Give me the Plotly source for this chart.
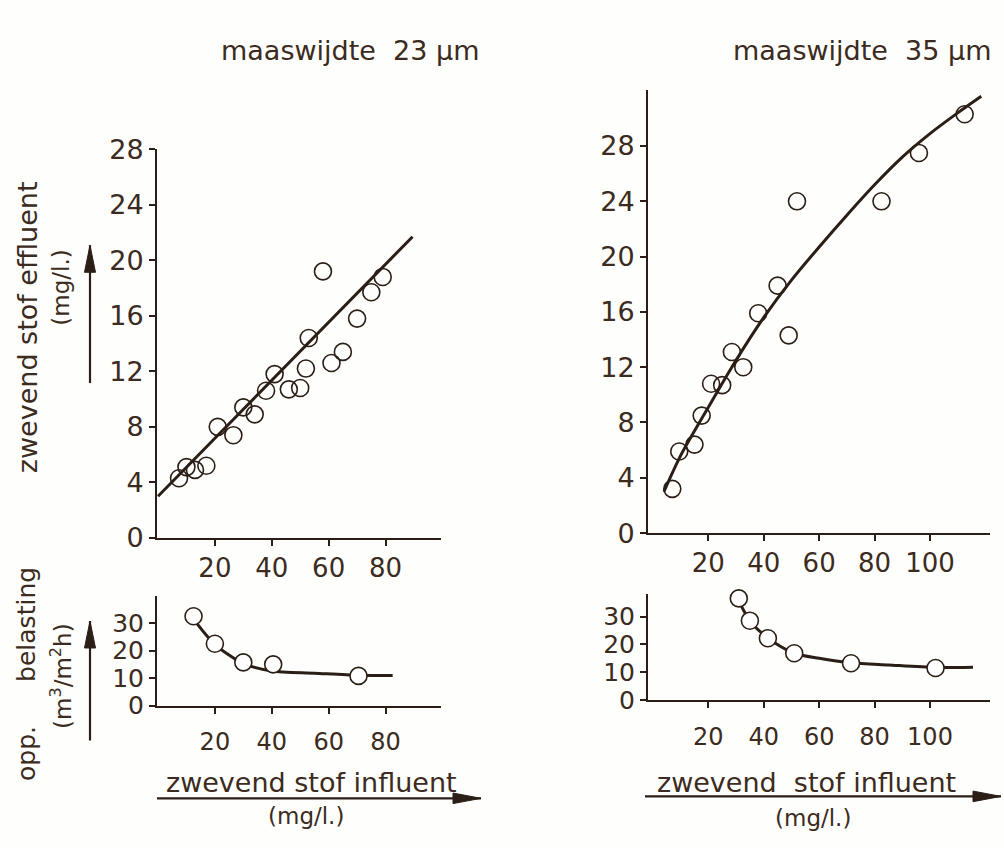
import plotly.graph_objects as go

# ---- data: maaswijdte 23 um -------------------------------------------
eff23_x = [7.4, 10, 13, 17, 21, 26.5, 30, 34, 38, 41, 46, 50, 52, 53, 58, 61, 65, 70, 75, 79]
eff23_y = [4.3, 5.1, 4.9, 5.2, 8.0, 7.4, 9.4, 8.9, 10.6, 11.8, 10.7, 10.8, 12.2, 14.4, 19.2, 12.6, 13.4, 15.8, 17.7, 18.8]
fit23_x = [0, 89.5]
fit23_y = [3.0, 21.7]

bel23_x = [12.5, 20, 30, 40.5, 70.5]
bel23_y = [32.5, 22.5, 15.7, 15.0, 10.8]
belfit23_x = [12.5, 20, 30, 40, 55, 70.5, 82.5]
belfit23_y = [31.5, 22.3, 15.3, 12.6, 11.8, 11.0, 10.9]

# ---- data: maaswijdte 35 um -------------------------------------------
eff35_x = [7, 9.5, 15, 17.6, 21, 25, 28.5, 32.6, 38, 45, 49, 52, 82.5, 96, 112.5]
eff35_y = [3.2, 5.9, 6.4, 8.5, 10.8, 10.7, 13.1, 12.0, 15.9, 17.9, 14.3, 24.0, 24.0, 27.5, 30.3]
fit35_x = [4, 10, 20, 30, 40, 50, 60, 70, 80, 90, 100, 110, 118.5]
fit35_y = [3.0, 5.6, 9.1, 12.5, 15.6, 18.3, 20.7, 23.0, 25.2, 27.2, 28.9, 30.4, 31.6]

bel35_x = [31, 35, 41.5, 51, 71.5, 102]
bel35_y = [36.5, 28.5, 22.2, 16.8, 13.2, 11.5]
belfit35_x = [31, 35, 41.5, 51, 60, 71.5, 85, 102, 115.5]
belfit35_y = [35.5, 28.5, 22.2, 16.8, 15.0, 13.4, 12.6, 11.7, 11.8]

# ---- tick labels -------------------------------------------------------
eff23_yticks = [0, 4, 8, 12, 16, 20, 24, 28]
eff35_yticks = [0, 4, 8, 12, 16, 20, 24, 28]
bel_yticks = [0, 10, 20, 30]
x23_ticks = [20, 40, 60, 80]
x35_ticks = [20, 40, 60, 80, 100]

INK = "#2b1e16"
TXT = "#3b2b20"
BG = "#fefefc"
W, H = 1004, 848


def px(x):
    return x / W


def py(y):
    return 1 - y / H


fig = go.Figure()


def add_panel(xa, ya, mx, my, lx, ly, open_marker, spline):
    fig.add_trace(go.Scatter(
        x=lx, y=ly, xaxis=xa, yaxis=ya, mode="lines",
        line=dict(color=INK, width=3, shape="spline" if spline else "linear", smoothing=0.8),
        showlegend=False, hoverinfo="skip", cliponaxis=False))
    fig.add_trace(go.Scatter(
        x=mx, y=my, xaxis=xa, yaxis=ya, mode="markers",
        marker=dict(symbol="circle", size=17,
                    color="rgba(0,0,0,0)" if open_marker else "white",
                    line=dict(color=INK, width=1.6)),
        showlegend=False, cliponaxis=False))


add_panel("x", "y", eff23_x, eff23_y, fit23_x, fit23_y, True, False)
add_panel("x2", "y2", eff35_x, eff35_y, fit35_x, fit35_y, True, True)
add_panel("x3", "y3", bel23_x, bel23_y, belfit23_x, belfit23_y, False, True)
add_panel("x4", "y4", bel35_x, bel35_y, belfit35_x, belfit35_y, False, True)

axis_common = dict(showline=True, linecolor=INK, linewidth=2, showgrid=False,
                   zeroline=False, ticks="outside", ticklen=6, tickwidth=2,
                   tickcolor=INK, fixedrange=True)
font_big = dict(family="DejaVu Sans", size=26, color=TXT)
font_small = dict(family="DejaVu Sans", size=24, color=TXT)

dom_left = [px(157), px(441)]
dom_right = [px(648), px(990)]

fig.update_layout(
    width=W, height=H, margin=dict(l=0, r=0, t=0, b=0),
    paper_bgcolor=BG, plot_bgcolor=BG,
    xaxis=dict(axis_common, domain=dom_left, range=[-0.35, 99.5], anchor="y",
               tickvals=x23_ticks, tickfont=font_big),
    yaxis=dict(axis_common, domain=[py(541.7), py(138.3)], range=[0, 28], anchor="x",
               tickvals=eff23_yticks, tickfont=dict(font_big, size=27)),
    xaxis2=dict(axis_common, domain=dom_right, range=[-1.77, 121.65], anchor="y2",
                tickvals=x35_ticks, tickfont=font_big),
    yaxis2=dict(axis_common, domain=[py(536.7), py(76.7)], range=[0, 32.06], anchor="x2",
                tickvals=eff35_yticks, tickfont=dict(font_big, size=27)),
    xaxis3=dict(axis_common, domain=dom_left, range=[-0.35, 99.5], anchor="y3",
                tickvals=x23_ticks, tickfont=font_small, ticklabelstandoff=8),
    yaxis3=dict(axis_common, domain=[py(715.7), py(601.7)], range=[0, 40], anchor="x3",
                tickvals=bel_yticks, tickfont=dict(font_small, size=25)),
    xaxis4=dict(axis_common, domain=dom_right, range=[-1.77, 121.65], anchor="y4",
                tickvals=x35_ticks, tickfont=font_small, ticklabelstandoff=8),
    yaxis4=dict(axis_common, domain=[py(710), py(600)], range=[0, 38.06], anchor="x4",
                tickvals=bel_yticks, tickfont=dict(font_small, size=25)),
)

label_font = dict(family="DejaVu Sans", size=24, color=TXT)


def note(text, x, y, angle=0, size=24):
    fig.add_annotation(text=text, x=px(x), y=py(y), xref="paper", yref="paper",
                       showarrow=False, textangle=angle, xanchor="center", yanchor="middle",
                       font=dict(label_font, size=size))


# panel titles
note("maaswijdte  23 µm", 350, 36, size=27)
note("maaswijdte  35 µm", 862, 36, size=27)

# vertical axis captions
note("zwevend stof effluent", 27, 323, angle=-90, size=27)
note("(mg/l.)", 61, 282, angle=-90, size=23)
note("opp.", 27, 766, angle=-90, size=25)
note("belasting", 27, 632, angle=-90, size=25)
note("(m<sup>3</sup>/m<sup>2</sup>h)", 61, 685, angle=-90, size=23)

# horizontal axis captions
note("zwevend stof influent", 311, 796, size=27)
note("(mg/l.)", 306, 830, size=23)
note("zwevend  stof influent", 806, 796, size=27)
note("(mg/l.)", 813, 832, size=23)


def arrow(x0, y0, x1, y1, head=28, half=5.5):
    # shaft
    fig.add_shape(type="line", xref="paper", yref="paper",
                  x0=px(x0), y0=py(y0), x1=px(x1), y1=py(y1),
                  line=dict(color=INK, width=2.2))
    # filled head pointing at (x1, y1)
    if x0 == x1:
        d = 1 if y1 > y0 else -1
        pts = [(x1, y1), (x1 - half, y1 - d * head), (x1 + half, y1 - d * head)]
    else:
        d = 1 if x1 > x0 else -1
        pts = [(x1, y1), (x1 - d * head, y1 - half), (x1 - d * head, y1 + half)]
    path = "M " + " L ".join(f"{px(a):.5f},{py(b):.5f}" for a, b in pts) + " Z"
    fig.add_shape(type="path", xref="paper", yref="paper", path=path,
                  fillcolor=INK, line=dict(color=INK, width=1))


arrow(90, 381, 90, 238)
arrow(90, 752, 90, 628)
arrow(157, 812, 481, 812)
arrow(645, 810, 1001, 810)

fig.write_html("out.html")
